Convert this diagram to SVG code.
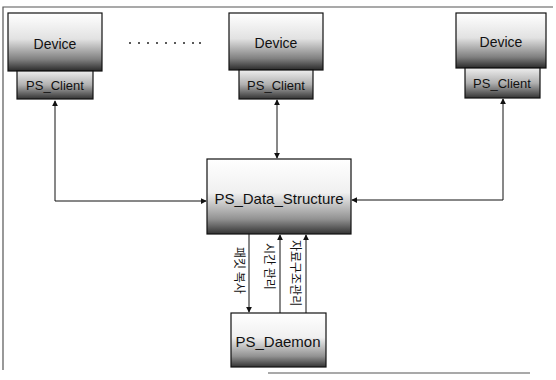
<svg xmlns="http://www.w3.org/2000/svg" width="556" height="380" viewBox="0 0 556 380">
<defs>
<linearGradient id="gDev" x1="0" y1="0" x2="0" y2="1">
<stop offset="0" stop-color="#ffffff"/>
<stop offset="0.45" stop-color="#e2e2e2"/>
<stop offset="0.8" stop-color="#808080"/>
<stop offset="1" stop-color="#2a2a2a"/>
</linearGradient>
<linearGradient id="gCli" x1="0" y1="0" x2="0" y2="1">
<stop offset="0" stop-color="#eeeeee"/>
<stop offset="0.5" stop-color="#b0b0b0"/>
<stop offset="1" stop-color="#333333"/>
</linearGradient>
<linearGradient id="gBig" x1="0" y1="0" x2="0" y2="1">
<stop offset="0" stop-color="#ffffff"/>
<stop offset="0.45" stop-color="#f0f0f0"/>
<stop offset="0.8" stop-color="#929292"/>
<stop offset="1" stop-color="#333333"/>
</linearGradient>
<marker id="ah" viewBox="0 0 8 8" refX="7" refY="4" markerWidth="6" markerHeight="6" orient="auto-start-reverse" markerUnits="userSpaceOnUse">
<path d="M0,0 L8,4 L0,8 z" fill="#111"/>
</marker>
</defs>
<style>
.box{stroke:#111;stroke-width:1.2}
.lbl{font-family:"Liberation Sans",Arial,sans-serif;fill:#111;text-anchor:middle}
.kr{font-family:"Noto Sans CJK KR",sans-serif;font-size:12px;fill:#111}
.ln{stroke:#111;stroke-width:1;fill:none}
.frame{stroke:#555;stroke-width:1.2;fill:none}
</style>
<g id="frame">
<path class="frame" d="M3,370 L3,7 L553,7"/>
<path class="frame" d="M268,373 L530,373"/>
</g>
<g id="dots" fill="#222">
<circle cx="130" cy="43" r="1"/><circle cx="139" cy="43" r="1"/><circle cx="148" cy="43" r="1"/><circle cx="157" cy="43" r="1"/><circle cx="166" cy="43" r="1"/><circle cx="175" cy="43" r="1"/><circle cx="184" cy="43" r="1"/><circle cx="193" cy="43" r="1"/><circle cx="200" cy="43" r="1"/>
</g>
<g id="device1">
<rect class="box" x="8" y="13" width="94" height="58" fill="url(#gDev)"/>
<text class="lbl" x="55" y="49" font-size="14">Device</text>
</g>
<g id="client1">
<rect class="box" x="17" y="71" width="76" height="28" fill="url(#gCli)"/>
<text class="lbl" x="55" y="90" font-size="13">PS_Client</text>
</g>
<g id="device2">
<rect class="box" x="229" y="13" width="94" height="57" fill="url(#gDev)"/>
<text class="lbl" x="276" y="48" font-size="14">Device</text>
</g>
<g id="client2">
<rect class="box" x="239" y="70" width="74" height="29" fill="url(#gCli)"/>
<text class="lbl" x="276" y="90" font-size="13">PS_Client</text>
</g>
<g id="device3">
<rect class="box" x="456" y="13" width="90" height="55" fill="url(#gDev)"/>
<text class="lbl" x="501" y="47" font-size="14">Device</text>
</g>
<g id="client3">
<rect class="box" x="465" y="68" width="75" height="30" fill="url(#gCli)"/>
<text class="lbl" x="502" y="88" font-size="13">PS_Client</text>
</g>
<g id="dataStructure">
<rect class="box" x="207" y="159" width="144" height="75" fill="url(#gBig)"/>
<text class="lbl" x="279" y="204" font-size="15">PS_Data_Structure</text>
</g>
<g id="daemon">
<rect class="box" x="231" y="313" width="95" height="54" fill="url(#gBig)"/>
<text class="lbl" x="278" y="347" font-size="15">PS_Daemon</text>
</g>
<g id="connectors">
<path class="ln" d="M55,101 L55,201 L206,201" marker-start="url(#ah)" marker-end="url(#ah)"/>
<path class="ln" d="M277,100 L277,158" marker-start="url(#ah)" marker-end="url(#ah)"/>
<path class="ln" d="M503,99 L503,200 L352,200" marker-start="url(#ah)" marker-end="url(#ah)"/>
<path class="ln" d="M249,234 L249,312" marker-end="url(#ah)"/>
<path class="ln" d="M280,313 L280,235" marker-end="url(#ah)"/>
<path class="ln" d="M306,313 L306,235" marker-end="url(#ah)"/>
<text class="kr" transform="translate(235,247) rotate(90)">패킷 복사</text>
<text class="kr" transform="translate(265,243) rotate(90)">시간 관리</text>
<text class="kr" transform="translate(291,240) rotate(90)">자료구조관리</text>
</g>
</svg>
